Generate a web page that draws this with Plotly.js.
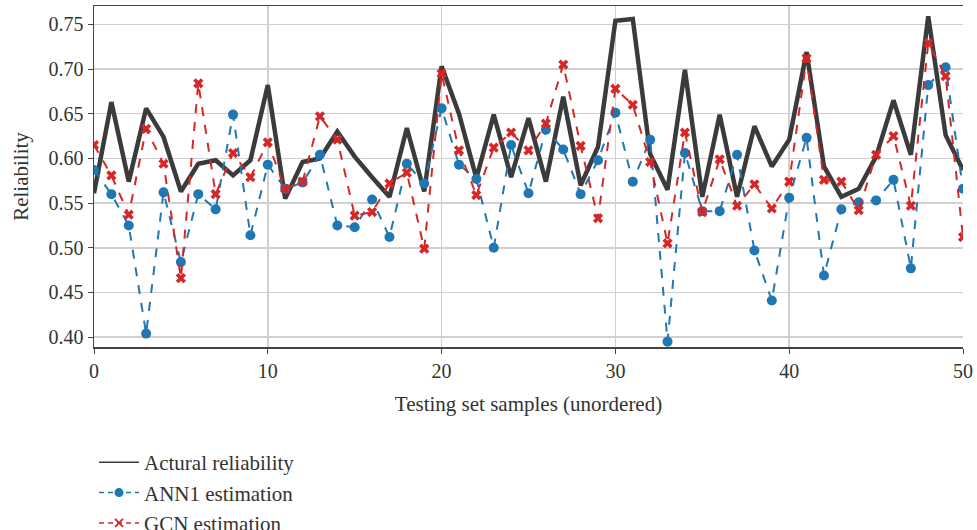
<!DOCTYPE html>
<html>
<head>
<meta charset="utf-8">
<script src="https://cdn.plot.ly/plotly-3.0.1.min.js"></script>
<style>html,body{margin:0;padding:0;background:#fff;}#chart{width:977px;height:530px;}</style>
</head>
<body>
<div id="chart"></div>
<script>
const samples = Array.from({length: 51}, (_, i) => i);
const actual = [0.561,0.663,0.574,0.656,0.624,0.563,0.594,0.598,0.581,0.598,
  0.682,0.555,0.596,0.600,0.630,0.602,0.579,0.557,0.634,0.563,
  0.703,0.650,0.578,0.649,0.579,0.645,0.574,0.669,0.570,0.613,
  0.754,0.756,0.605,0.565,0.699,0.557,0.649,0.557,0.636,0.591,
  0.621,0.719,0.591,0.557,0.566,0.602,0.665,0.604,0.759,0.626,0.587];
const ann1 = [0.587,0.560,0.525,0.404,0.562,0.484,0.560,0.543,0.649,0.514,
  0.593,0.566,0.573,0.604,0.525,0.523,0.554,0.512,0.594,0.572,
  0.656,0.593,0.577,0.500,0.615,0.561,0.632,0.610,0.560,0.598,
  0.651,0.574,0.621,0.395,0.606,0.541,0.541,0.604,0.497,0.441,
  0.556,0.623,0.469,0.543,0.551,0.553,0.576,0.477,0.682,0.702,0.566];
const gcn = [0.615,0.581,0.537,0.633,0.594,0.466,0.684,0.560,0.606,0.579,
  0.618,0.566,0.574,0.647,0.621,0.536,0.540,0.572,0.584,0.499,
  0.695,0.609,0.559,0.612,0.629,0.609,0.639,0.705,0.614,0.533,
  0.678,0.660,0.596,0.505,0.629,0.540,0.599,0.547,0.571,0.544,
  0.574,0.712,0.576,0.574,0.542,0.604,0.625,0.547,0.729,0.692,0.512];
const names = ["Actural reliability", "ANN1 estimation", "GCN estimation"];
const xTicks = [0,10,20,30,40,50];
const yTicks = [0.40,0.45,0.50,0.55,0.60,0.65,0.70,0.75];

const serif = "Liberation Serif";
const black = "#3b3b3b", blue = "#1f77b4", red = "#d62728";
const traces = [
  {x: samples, y: actual, name: names[0], mode: "lines", showlegend: false,
   line: {color: black, width: 4.5}},
  {x: samples, y: ann1, name: names[1], mode: "lines+markers", showlegend: false,
   line: {color: blue, width: 2, dash: "dash"},
   marker: {symbol: "circle", size: 10, color: blue}},
  {x: samples, y: gcn, name: names[2], mode: "lines+markers", showlegend: false,
   line: {color: red, width: 2, dash: "dash"},
   marker: {symbol: "x", size: 9, color: red}},
  // legend entries (thin line keys as in the reference)
  {x: [null], y: [null], name: names[0], mode: "lines",
   line: {color: black, width: 1.5}},
  {x: [null], y: [null], name: names[1], mode: "lines+markers",
   line: {color: blue, width: 1.5, dash: "5px,4px"},
   marker: {symbol: "circle", size: 9, color: blue}},
  {x: [null], y: [null], name: names[2], mode: "lines+markers",
   line: {color: red, width: 1.5, dash: "5px,4px"},
   marker: {symbol: "x-thin", size: 8, color: red, line: {color: red, width: 1.8}}}
];
const layout = {
  width: 977, height: 530,
  margin: {l: 94, r: 14, t: 6, b: 183, autoexpand: false},
  paper_bgcolor: "#fff", plot_bgcolor: "#fff",
  font: {family: serif, size: 20, color: "#333"},
  showlegend: true,
  legend: {x: 0, y: -0.279, xanchor: "left", yanchor: "top", tracegroupgap: 0,
    itemwidth: 40,
    font: {family: serif, size: 21, color: "#333"}, bgcolor: "rgba(0,0,0,0)"},
  xaxis: {range: [0, 50], tickvals: xTicks, ticktext: xTicks.map(String),
    showgrid: true, gridcolor: "#d0d0d0", gridwidth: 1.5, zeroline: false,
    showline: true, linecolor: "#444", linewidth: 1.5, mirror: true,
    ticks: "outside", ticklen: 5, tickcolor: "#444",
    tickfont: {family: serif, size: 20, color: "#333"},
    title: {text: "Testing set samples (unordered)", font: {family: serif, size: 21, color: "#333"}, standoff: 16}},
  yaxis: {range: [0.389, 0.7705], tickvals: yTicks, ticktext: yTicks.map(v => v.toFixed(2)),
    showgrid: true, gridcolor: "#d0d0d0", gridwidth: 1.5, zeroline: false,
    showline: true, linecolor: "#444", linewidth: 1.5, mirror: false,
    ticks: "outside", ticklen: 5, tickcolor: "#444",
    tickfont: {family: serif, size: 20, color: "#333"},
    title: {text: "Reliability", font: {family: serif, size: 21, color: "#333"}, standoff: 14}}
};
Plotly.newPlot("chart", traces, layout, {displayModeBar: false, staticPlot: true});
</script>
</body>
</html>
